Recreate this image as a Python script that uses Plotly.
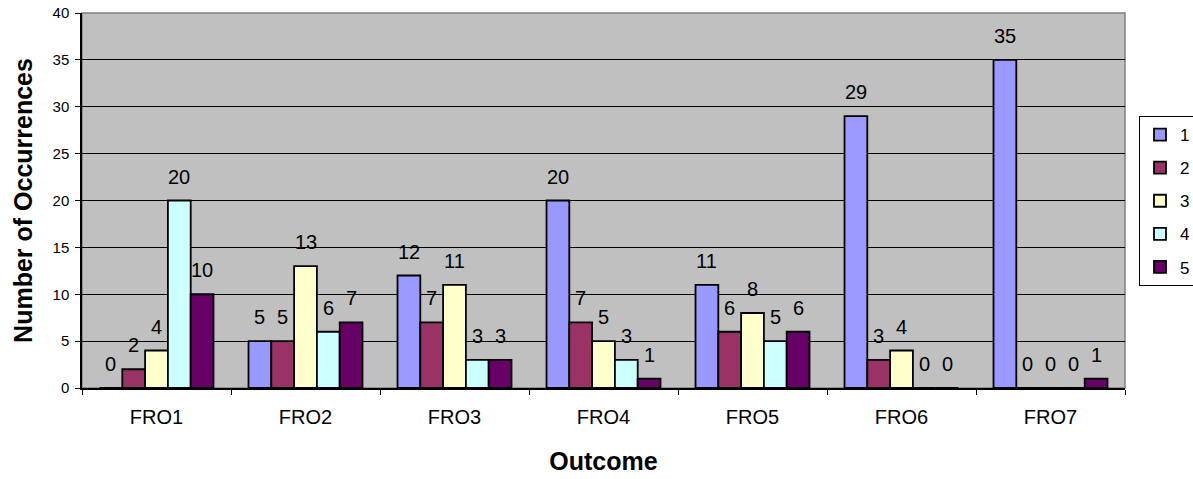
import plotly.graph_objects as go

categories = ["FRO1", "FRO2", "FRO3", "FRO4", "FRO5", "FRO6", "FRO7"]
series_names = ["1", "2", "3", "4", "5"]
s1 = [0, 5, 12, 20, 11, 29, 35]
s2 = [2, 5, 7, 7, 6, 3, 0]
s3 = [4, 13, 11, 5, 8, 4, 0]
s4 = [20, 6, 3, 3, 5, 0, 0]
s5 = [10, 7, 3, 1, 6, 0, 1]
series_values = [s1, s2, s3, s4, s5]
colors = ["#9999FF", "#993366", "#FFFFCC", "#CCFFFF", "#660066"]
y_ticks = [0, 5, 10, 15, 20, 25, 30, 35, 40]

FONT = "Arial, Liberation Sans, sans-serif"
BARGAP = 0.235
W, H = 1193, 479

fig = go.Figure()
for name, vals, col in zip(series_names, series_values, colors):
    fig.add_trace(go.Bar(
        name=name, x=categories, y=vals,
        marker=dict(color=col, line=dict(color="black", width=1.8)),
        legendgroup=name,
    ))

# data labels above bars
n = len(series_values)
w = (1 - BARGAP) / n
annotations = []
for i, vals in enumerate(series_values):
    for j, v in enumerate(vals):
        annotations.append(dict(
            x=j + (i - (n - 1) / 2) * w, y=v, xref="x", yref="y",
            text=str(v), showarrow=False, yanchor="middle", yshift=24,
            font=dict(family=FONT, size=20, color="black"),
        ))

fig.update_layout(
    width=W, height=H,
    margin=dict(l=82, r=68, t=13, b=91, autoexpand=False),
    paper_bgcolor="white", plot_bgcolor="#C0C0C0",
    barmode="group", bargap=BARGAP, bargroupgap=0,
    font=dict(family=FONT, color="black"),
    annotations=annotations,
    showlegend=True,
    legend=dict(
        xref="container", yref="container",
        x=1139 / W, y=1 - 116 / H, xanchor="left", yanchor="top",
        bgcolor="white", bordercolor="black", borderwidth=1,
        font=dict(family=FONT, size=17, color="black"),
        tracegroupgap=8, traceorder="grouped",
    ),
    shapes=[dict(type="rect", xref="paper", yref="paper", x0=0, x1=1, y0=0, y1=1,
                 line=dict(color="#808080", width=1.5), layer="below")],
)

fig.update_yaxes(
    range=[0, 40], tickvals=y_ticks, ticktext=[str(t) for t in y_ticks],
    showgrid=True, gridcolor="black", gridwidth=1,
    showline=True, linecolor="black", linewidth=1.5,
    ticks="outside", ticklen=5, tickcolor="black",
    tickfont=dict(family=FONT, size=15, color="black"),
    ticklabelstandoff=3,
    zeroline=False, automargin=False,
    title=dict(text="<b>Number of Occurrences</b>", font=dict(family=FONT, size=25, color="black"), standoff=13),
)
fig.update_xaxes(
    showline=True, linecolor="black", linewidth=1.5,
    ticks="outside", ticklen=5, tickcolor="black", tickson="boundaries",
    tickfont=dict(family=FONT, size=20, color="black"),
    ticklabelstandoff=10,
    automargin=False,
    title=dict(text="<b>Outcome</b>", font=dict(family=FONT, size=25, color="black"), standoff=26),
)

fig.write_html("out.html", config={"displayModeBar": False},
               post_script="document.body.style.margin='0';")
